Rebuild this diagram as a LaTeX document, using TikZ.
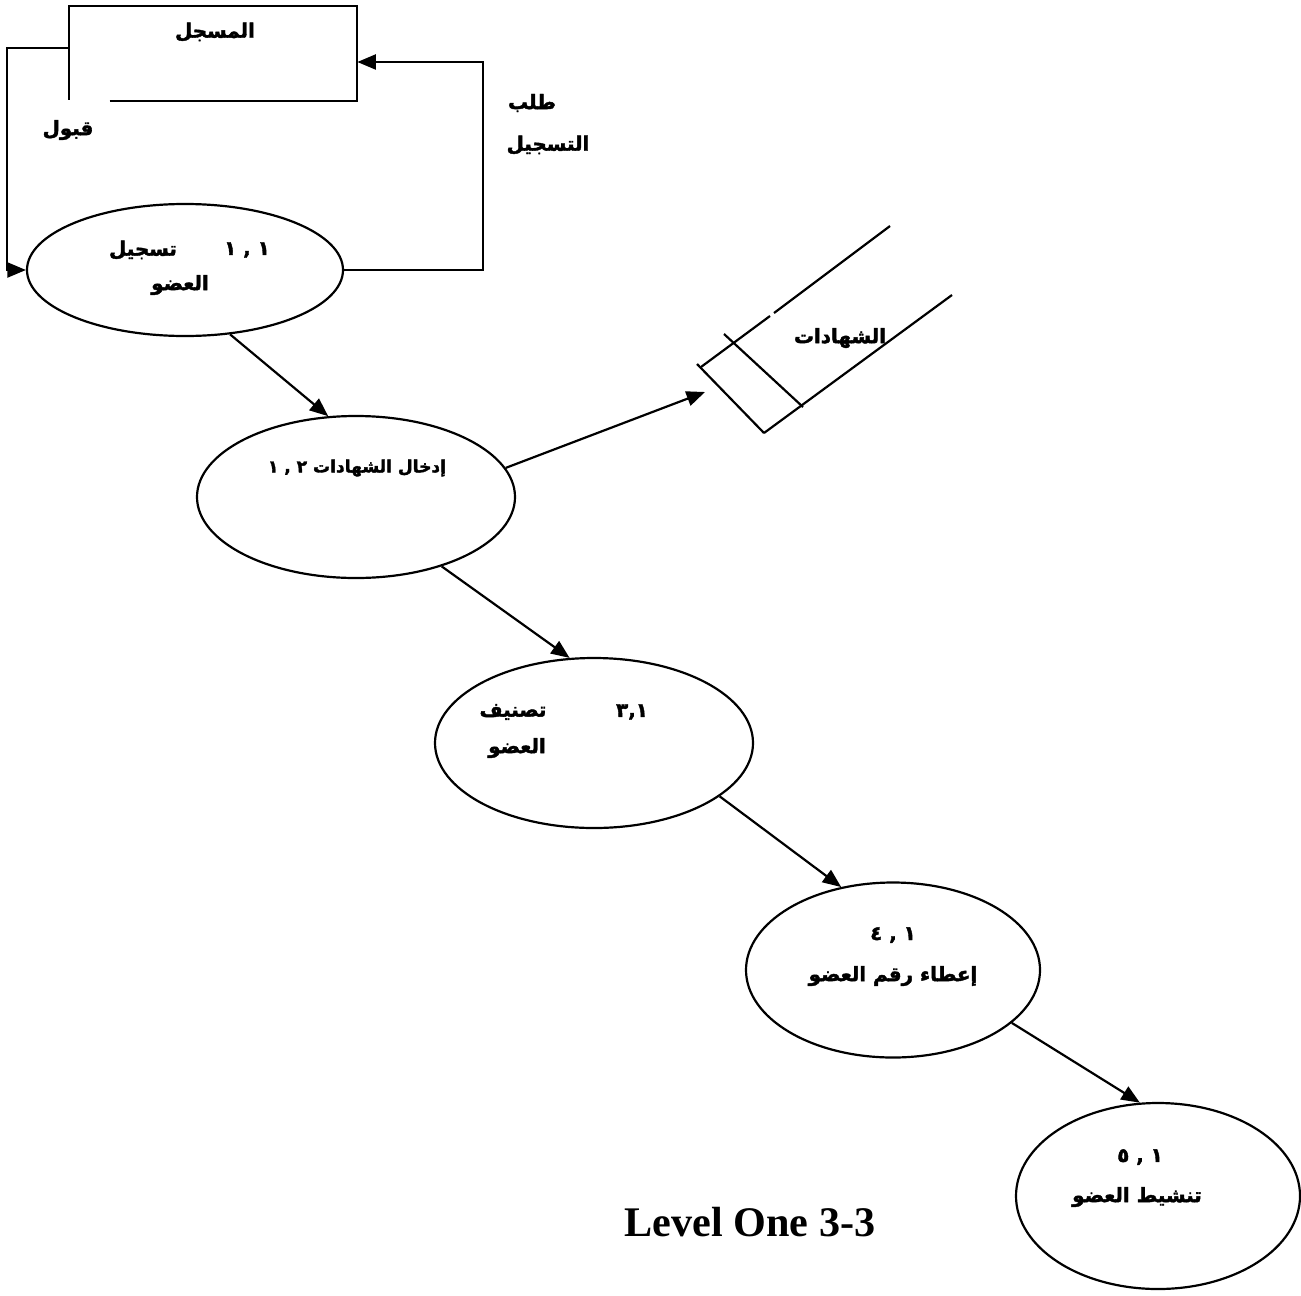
\documentclass[tikz,border=0pt]{standalone}
\usepackage{fontspec}
\setmainfont{Liberation Serif}
\newfontfamily\ar[Script=Arabic,BoldFeatures={FakeBold=2}]{DejaVu Sans}
\TeXXeTstate=1
\usetikzlibrary{shapes.geometric,arrows.meta}
% Arabic text, right to left, bold
\newcommand\AR[1]{{\ar\bfseries\beginR #1\endR}}

\begin{document}
\begin{tikzpicture}[x=0.2mm,y=-0.2mm,
  line/.style={line width=1.25pt},
  arr/.style={line, -{Triangle[length=10.5pt,width=8.5pt]}},
  proc/.style={ellipse, draw, line width=1.25pt, inner sep=0pt},
  lbl/.style={inner sep=0pt, font=\fontsize{11.3}{13}\selectfont},
  small/.style={inner sep=0pt, font=\fontsize{9.7}{11}\selectfont}]

\useasboundingbox (0,0) rectangle (1301,1295);

% external entity
\node[minimum width=57.6mm, minimum height=19mm, inner sep=0pt] (reg) at (213,53.5) {};
\draw[line] ([xshift=8.2mm]reg.south west) -- (reg.south east) -- (reg.north east)
  -- (reg.north west) -- ([yshift=0.2mm]reg.south west);
\node[lbl] (regt) at (215,32) {\AR{المسجل}};

% processes
\node[proc, minimum width=63.2mm, minimum height=26.4mm] (p1) at (185,270) {};
\node[proc, minimum width=63.6mm, minimum height=32.4mm] (p2) at (356,497) {};
\node[proc, minimum width=63.6mm, minimum height=34mm]   (p3) at (594,743) {};
\node[proc, minimum width=58.8mm, minimum height=35mm]   (p4) at (893,970) {};
\node[proc, minimum width=56.8mm, minimum height=37.2mm] (p5) at (1158,1196) {};

% process labels
\node[lbl] (p1n) at (247,250) {\AR{١ , ١}};
\node[lbl] (p1a) at (143,250) {\AR{تسجيل}};
\node[lbl] (p1b) at (180,285) {\AR{العضو}};

\node[small] (p2a) at (357,468) {\AR{إدخال الشهادات ٢ , ١}};

\node[lbl] (p3n) at (632,712) {\AR{٣,١}};
\node[lbl] (p3a) at (513,712) {\AR{تصنيف}};
\node[lbl] (p3b) at (517,748) {\AR{العضو}};

\node[lbl] (p4n) at (893,935) {\AR{١ , ٤}};
\node[lbl] (p4a) at (893,976) {\AR{إعطاء رقم العضو}};

\node[lbl] (p5n) at (1140,1157) {\AR{١ , ٥}};
\node[lbl] (p5a) at (1137,1197) {\AR{تنشيط العضو}};

% data store
\coordinate (dsa) at (701,367);
\coordinate (dsb) at (764,433);
\coordinate (dsc) at (727,337);
\coordinate (dsd) at (803,407);
\draw[line] (697,364) -- (dsb);
\draw[line] (dsa) -- (770,316);
\draw[line] (774,313) -- (890,226);
\draw[line] (dsb) -- (952,295);
\draw[line] ([shift={(-3,-3)}]dsc) -- (dsd);
\node[lbl] (dst) at (840,338) {\AR{الشهادات}};
\coordinate (dsin) at (705,392);

% flows
\draw[arr] ([yshift=1.1mm]reg.west) -- ++(-62,0) |- (p1.west);
\node[lbl] (acc) at (68,130) {\AR{قبول}};
\draw[arr] (p1.east) -- ++(139,0) |- ([yshift=-1.7mm]reg.east);
\node[lbl] (req1) at (532,103) {\AR{طلب}};
\node[lbl] (req2) at (548,145) {\AR{التسجيل}};

\draw[arr] (p1.-55) -- (p2.109);
\draw[arr] (p2.11) -- (dsin);
\draw[arr] (p2.-39) -- (p3.106);
\draw[arr] (p3.-23) -- (p4.122);
\draw[arr] (p4.-24) -- (p5.101);

\node[inner sep=0pt, font=\bfseries\fontsize{24}{28}\selectfont] (title) at (750,1222) {Level One 3-3};
\end{tikzpicture}
\end{document}
